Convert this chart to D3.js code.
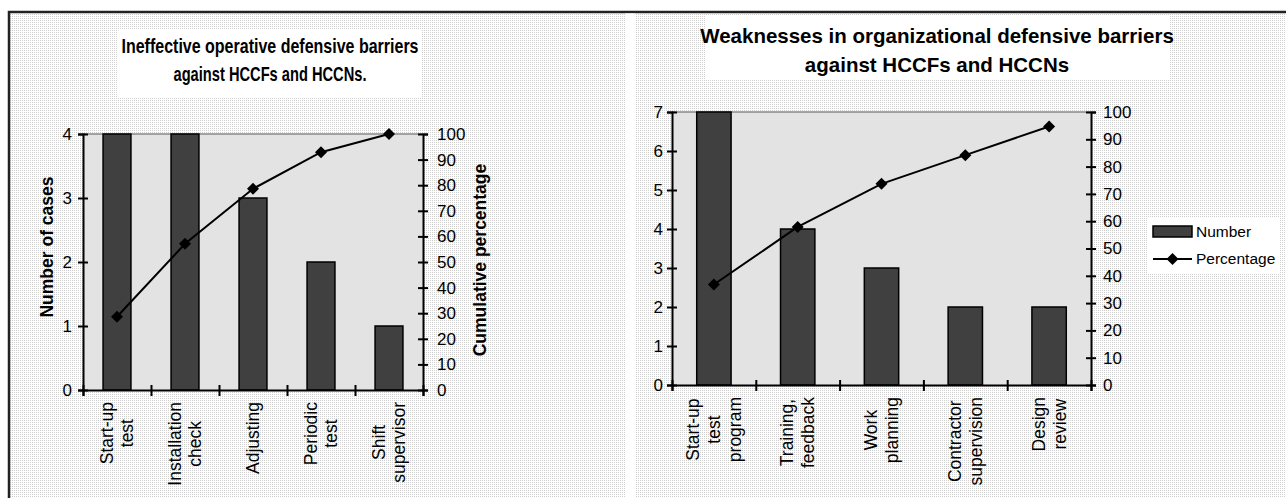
<!DOCTYPE html>
<html><head><meta charset="utf-8">
<script src="https://cdn.jsdelivr.net/npm/d3@7"></script>
<style>
html,body{margin:0;padding:0;background:#fff;}
svg{display:block;}
text{font-family:"Liberation Sans",Arial,sans-serif;fill:#000;}
</style></head>
<body>
<svg id="c" width="1286" height="498"></svg>
<script>
// ---------- data ----------
const leftCategories = [["Start-up","test"],["Installation","check"],["Adjusting"],["Periodic","test"],["Shift","supervisor"]];
const leftCounts = [4,4,3,2,1];
const leftPercent = [28.6,57.1,78.6,92.9,100];
const leftCountTicks = [0,1,2,3,4];
const leftTitle = ["Ineffective operative defensive barriers","against HCCFs  and HCCNs."];

const rightCategories = [["Start-up","test","program"],["Training,","feedback"],["Work","planning"],["Contractor","supervision"],["Design","review"]];
const rightCounts = [7,4,3,2,2];
const rightPercent = [36.8,57.9,73.7,84.2,94.7];
const rightCountTicks = [0,1,2,3,4,5,6,7];
const rightTitle = ["Weaknesses in organizational defensive barriers","against HCCFs and HCCNs"];

const percentTicks = [0,10,20,30,40,50,60,70,80,90,100];
const legendItems = ["Number","Percentage"];

// ---------- drawing ----------
const svg = d3.select("#c");
const defs = svg.append("defs");
const pat = defs.append("pattern").attr("id","dots").attr("width",2).attr("height",2).attr("patternUnits","userSpaceOnUse");
pat.append("rect").attr("width",2).attr("height",2).attr("fill","#ffffff");
pat.append("rect").attr("width",1).attr("height",1).attr("fill","#cfcfcf");

svg.append("rect").attr("x",9).attr("y",12).attr("width",1400).attr("height",600)
  .attr("fill","url(#dots)").attr("stroke","#222").attr("stroke-width",2.5);
svg.append("rect").attr("x",625).attr("y",13.5).attr("width",10).attr("height",500).attr("fill","#fff");

const BAR = "#404040";

function diamond(g, x, y, r){
  g.append("path").attr("d",`M${x},${y-r}L${x+r},${y}L${x},${y+r}L${x-r},${y}Z`).attr("fill","#000");
}

function chart(o){
  const g = svg.append("g");
  // title box
  g.append("rect").attr("x",o.titleBox[0]).attr("y",o.titleBox[1]).attr("width",o.titleBox[2]).attr("height",o.titleBox[3]).attr("fill","#fff");
  o.title.forEach((t,i)=>{
    const tx = g.append("text").attr("x",o.titleX).attr("y",o.titleY[i]).attr("text-anchor","middle")
      .attr("font-size",20.5).attr("font-weight","bold").text(t);
    if(o.titleLen) tx.attr("textLength",o.titleLen[i]).attr("lengthAdjust","spacingAndGlyphs");
  });
  const x = d3.scaleBand().domain(d3.range(o.counts.length)).range([o.x0,o.x1]).paddingInner(0).paddingOuter(0);
  const xb = d3.scaleLinear().domain([0,o.counts.length]).range([o.x0,o.x1]);
  const y = d3.scaleLinear().domain([0,d3.max(o.countTicks)]).range([o.y0,o.y1]);
  const yp = d3.scaleLinear().domain([0,100]).range([o.y0,o.y1]);
  // plot area
  g.append("rect").attr("x",o.x0).attr("y",o.y1).attr("width",o.x1-o.x0).attr("height",o.y0-o.y1).attr("fill","#e3e3e3");
  g.append("line").attr("x1",o.x0).attr("x2",o.x1).attr("y1",o.y1).attr("y2",o.y1).attr("stroke","#888").attr("stroke-width",1.5);
  // bars
  const bw = x.bandwidth()*0.41;
  g.selectAll("rect.bar").data(o.counts).join("rect").attr("class","bar")
    .attr("x",(d,i)=>x(i)+x.bandwidth()/2-bw/2).attr("width",bw)
    .attr("y",d=>y(d)).attr("height",d=>y(0)-y(d))
    .attr("fill",BAR).attr("stroke","#000").attr("stroke-width",1.5);
  // line
  const line = d3.line().x((d,i)=>x(i)+x.bandwidth()/2).y(d=>yp(d));
  g.append("path").attr("d",line(o.percent)).attr("fill","none").attr("stroke","#000").attr("stroke-width",2);
  o.percent.forEach((d,i)=>diamond(g,x(i)+x.bandwidth()/2,yp(d),6));
  // axes
  const fs = 17;
  const ax = g.append("g").attr("transform",`translate(${o.x0},0)`)
    .call(d3.axisLeft(y).tickValues(o.countTicks).tickFormat(d3.format("d")).tickSizeOuter(0).tickSize(5).tickPadding(o.lPad));
  const ax2 = g.append("g").attr("transform",`translate(${o.x1},0)`)
    .call(d3.axisRight(yp).tickValues(percentTicks).tickFormat(d3.format("d")).tickSizeOuter(0).tickSize(5).tickPadding(o.rPad));
  const ax3 = g.append("g").attr("transform",`translate(0,${o.y0})`)
    .call(d3.axisBottom(xb).tickValues(d3.range(o.counts.length+1)).tickFormat("").tickSizeOuter(0).tickSize(6));
  [ax,ax2,ax3].forEach(a=>{
    a.select(".domain").attr("stroke","#000").attr("stroke-width",2);
    a.selectAll(".tick line").attr("stroke","#000").attr("stroke-width",2);
    a.selectAll(".tick text").attr("font-size",fs).attr("font-family","Liberation Sans, Arial, sans-serif").attr("fill","#000");
  });
  ax.selectAll(".tick line").attr("x1",5);
  ax2.selectAll(".tick line").attr("x1",-5);
  ax3.selectAll(".tick line").attr("y1",-5);
  // category labels
  o.cats.forEach((lines,i)=>{
    const cx = x(i)+x.bandwidth()/2;
    const lg = g.append("g").attr("transform",`translate(${cx},0) rotate(-90)`);
    const n = lines.length;
    const ts = lines.map((t,j)=>lg.append("text").attr("y",(j-(n-1)/2)*o.lh).attr("dy","0.35em")
      .attr("text-anchor","middle").attr("font-size",17.5).text(t));
    const W = d3.max(ts,t=>t.node().getComputedTextLength());
    ts.forEach(t=>t.attr("x",-(o.labTop+W/2)));
  });
  // axis titles
  if(o.yTitle){
    g.append("text").attr("transform",`translate(${o.yTitle[1]},${o.yTitle[2]}) rotate(-90)`)
      .attr("text-anchor","middle").attr("dy","0.35em").attr("font-size",17.5).attr("font-weight","bold").text(o.yTitle[0]);
    g.append("text").attr("transform",`translate(${o.y2Title[1]},${o.y2Title[2]}) rotate(-90)`)
      .attr("text-anchor","middle").attr("dy","0.35em").attr("font-size",17.5).attr("font-weight","bold").text(o.y2Title[0]);
  }
}

chart({title:leftTitle,titleX:270,titleY:[53,81],titleLen:[297,193],titleBox:[118,30,304,68],
  counts:leftCounts,percent:leftPercent,countTicks:leftCountTicks,cats:leftCategories,
  x0:83,x1:423,y0:390,y1:134,lPad:6,rPad:9,lh:20,labTop:402,
  yTitle:["Number of cases",47,247],y2Title:["Cumulative percentage",480,260]});

chart({title:rightTitle,titleX:937,titleY:[43,72],titleBox:[705,16,465,64],
  counts:rightCounts,percent:rightPercent,countTicks:rightCountTicks,cats:rightCategories,
  x0:672,x1:1091,y0:385,y1:112,lPad:4,rPad:7,lh:21,labTop:397});

// legend
const lg = svg.append("g");
lg.append("rect").attr("x",1147).attr("y",217).attr("width",133).attr("height",57).attr("fill","#fff");
lg.append("rect").attr("x",1153).attr("y",226).attr("width",39).attr("height",11).attr("fill",BAR).attr("stroke","#000").attr("stroke-width",1.5);
lg.append("line").attr("x1",1153).attr("x2",1192).attr("y1",259).attr("y2",259).attr("stroke","#000").attr("stroke-width",2);
diamond(lg,1172.5,259,6);
legendItems.forEach((t,i)=>lg.append("text").attr("x",1196).attr("y",232+i*27).attr("dy","0.35em").attr("font-size",15.5).text(t));
</script>
</body></html>
